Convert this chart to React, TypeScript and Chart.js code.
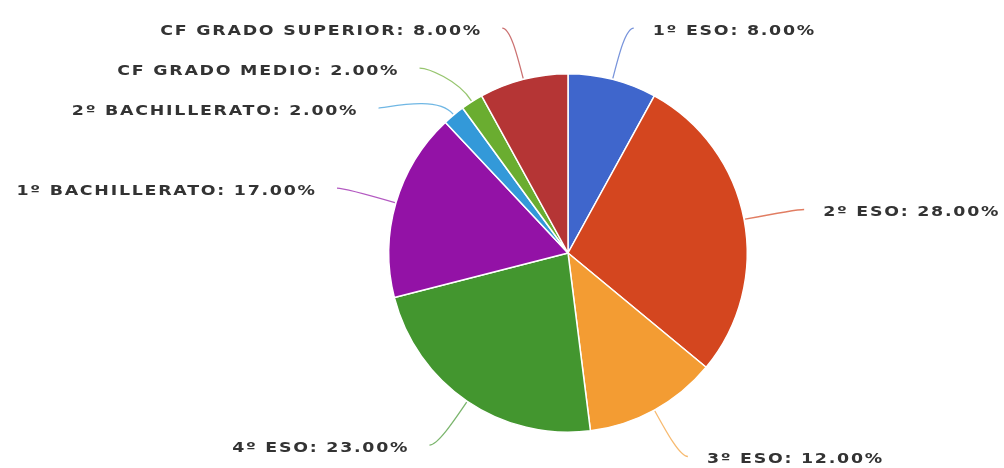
import React, { useEffect, useRef } from "react";
import { Chart, registerables } from "chart.js";

Chart.register(...registerables);

const categories = [
  "1º ESO",
  "2º ESO",
  "3º ESO",
  "4º ESO",
  "1º BACHILLERATO",
  "2º BACHILLERATO",
  "CF GRADO MEDIO",
  "CF GRADO SUPERIOR",
];
const percentages = [8, 28, 12, 23, 17, 2, 2, 8];
const sliceColors = [
  "#3f66cc",
  "#d4461f",
  "#f39c33",
  "#43962f",
  "#9312a6",
  "#3399d9",
  "#6aad30",
  "#b53535",
];

const LABEL_GAP = 40;
const LETTER_SPACING = 1.45;
const SCALE_X = 1.2;

const labelPlugin = {
  id: "leaderLabels",
  afterDraw(chart: any) {
    const meta = chart.getDatasetMeta(0);
    const ctx: CanvasRenderingContext2D = chart.ctx;
    const items: any[] = [];
    meta.data.forEach((arc: any, i: number) => {
      const p = arc.getProps(["x", "y", "startAngle", "endAngle", "outerRadius"], true);
      const mid = (p.startAngle + p.endAngle) / 2;
      const R = p.outerRadius;
      const labelR = R + 53;
      const cos = Math.cos(mid);
      const sin = Math.sin(mid);
      items.push({
        i,
        cx: p.x,
        cy: p.y,
        R,
        labelR,
        mid,
        right: cos >= 0,
        ax: p.x + (R + 1) * cos,
        ay: p.y + (R + 1) * sin,
        qx: p.x + (R + 26) * cos,
        qy: p.y + (R + 26) * sin,
        ex: p.x + labelR * cos,
        ey: p.y + labelR * sin,
      });
    });

    [true, false].forEach((side) => {
      const group = items.filter((it) => it.right === side).sort((a, b) => a.ey - b.ey);
      for (let k = 1; k < group.length; k++) {
        const prev = group[k - 1];
        const cur = group[k];
        if (cur.ey < prev.ey + LABEL_GAP) {
          cur.ey = prev.ey + LABEL_GAP;
          const dy = cur.ey - cur.cy;
          if (Math.abs(dy) < cur.labelR) {
            const dx = Math.sqrt(cur.labelR * cur.labelR - dy * dy);
            cur.ex = cur.cx + (side ? dx : -dx);
          }
        }
      }
    });

    ctx.save();
    items.forEach((it) => {
      const color = sliceColors[it.i];
      const endX = it.ex + (it.right ? 8 : -8);
      ctx.beginPath();
      ctx.moveTo(it.ax, it.ay);
      ctx.bezierCurveTo(it.qx, it.qy, it.ex, it.ey, endX, it.ey);
      ctx.strokeStyle = color;
      ctx.globalAlpha = 0.7;
      ctx.lineWidth = 1.3;
      ctx.stroke();
      ctx.globalAlpha = 1;

      const text = `${categories[it.i]}: ${percentages[it.i].toFixed(2)}%`;
      ctx.font = "bold 14.5px 'DejaVu Sans'";
      (ctx as any).letterSpacing = `${LETTER_SPACING}px`;
      ctx.fillStyle = "#333333";
      ctx.textBaseline = "middle";
      ctx.textAlign = "left";
      const w = (ctx.measureText(text).width - LETTER_SPACING) * SCALE_X;
      const tx = it.right ? it.ex + 27 : it.ex - 30 - w;
      ctx.save();
      ctx.translate(tx, it.ey + 3);
      ctx.scale(SCALE_X, 1);
      ctx.fillText(text, 0, 0);
      ctx.restore();
    });
    ctx.restore();
  },
};

export default function App() {
  const canvasRef = useRef<HTMLCanvasElement | null>(null);

  useEffect(() => {
    if (!canvasRef.current) return;
    const chart = new Chart(canvasRef.current, {
      type: "pie",
      data: {
        labels: categories,
        datasets: [
          {
            data: percentages,
            backgroundColor: sliceColors,
            borderColor: "#ffffff",
            borderWidth: 1.5,
            hoverOffset: 0,
          },
        ],
      },
      options: {
        responsive: false,
        animation: false,
        layout: { padding: { left: 200, right: 68, top: 73, bottom: 35 } },
        plugins: {
          legend: { display: false },
          tooltip: { enabled: false },
        },
      },
      plugins: [labelPlugin],
    });
    return () => chart.destroy();
  }, []);

  return (
    <div style={{ position: "fixed", left: 0, top: 0, width: 1004, height: 468, background: "#fff" }}>
      <canvas ref={canvasRef} width={1004} height={468} style={{ width: 1004, height: 468 }} />
    </div>
  );
}
